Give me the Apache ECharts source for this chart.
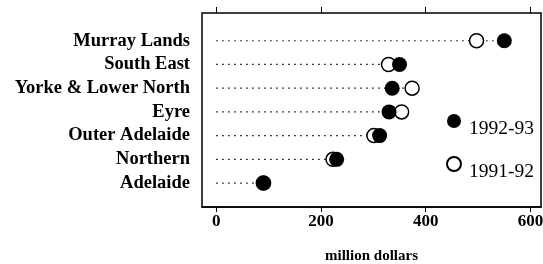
<!DOCTYPE html>
<html>
<head>
<meta charset="utf-8">
<script src="https://cdn.jsdelivr.net/npm/echarts@6/dist/echarts.min.js"></script>
<style>
body { margin: 0; background: #fff; }
#chart { width: 543px; height: 264px; }
</style>
</head>
<body>
<div id="chart"></div>
<script>
// regions, top to bottom
var regions = ['Murray Lands', 'South East', 'Yorke & Lower North', 'Eyre', 'Outer Adelaide', 'Northern', 'Adelaide'];
var v9293 = [550, 350, 336, 330, 312, 230, 91];
var v9192 = [497, 329, 374, 354, 301, 223, 90];
var xTicks = [0, 200, 400, 600];

var font = 'Liberation Serif';

var dotData = [], openData = [], lineData = [];
for (var i = 0; i < regions.length; i++) {
	dotData.push([v9293[i], i]);
	openData.push([v9192[i], i]);
	lineData.push([Math.max(v9293[i], v9192[i]), i]);
}

var myChart = echarts.init(document.getElementById('chart'));
var option = {
	animation: false,
	grid: {
		left: 202, right: 2, top: 13, bottom: 57, outerBoundsMode: 'none', containLabel: false,
		show: true, borderColor: '#000', borderWidth: 1.5
	},
	legend: {
		orient: 'vertical',
		left: 446, top: 114, padding: 0,
		itemWidth: 14, itemHeight: 14, itemGap: 17,
		data: ['1992-93', '1991-92'],
		formatter: function (name) { return '{a|' + name + '}'; },
		textStyle: {
			color: '#000',
			rich: { a: { fontFamily: font, fontSize: 19.5, color: '#000', padding: [16, 0, 0, 3] } }
		}
	},
	xAxis: [{
		type: 'value', min: -27, max: 620,
		name: 'million dollars', nameLocation: 'middle', nameGap: 42,
		nameTextStyle: { fontFamily: font, fontSize: 15, fontWeight: 'bold', color: '#000' },
		axisLine: { show: true, onZero: false, lineStyle: { color: '#000', width: 1.5 } },
		axisTick: { show: true, length: 5, customValues: xTicks, lineStyle: { color: '#000' } },
		axisLabel: { customValues: xTicks, fontFamily: font, fontSize: 17, fontWeight: 'bold', color: '#000', margin: 6 },
		splitLine: { show: false }
	}, {
		type: 'value', position: 'top', min: -27, max: 620,
		axisLine: { show: false, onZero: false },
		axisTick: { show: true, length: 6, customValues: xTicks, lineStyle: { color: '#000' } },
		axisLabel: { show: false },
		splitLine: { show: false }
	}],
	yAxis: {
		type: 'value', inverse: true, min: -1.17, max: 7.01,
		axisLine: { show: false },
		axisTick: { show: false },
		splitLine: { show: false },
		axisLabel: {
			customValues: [0, 1, 2, 3, 4, 5, 6],
			formatter: function (v) { return regions[v]; },
			fontFamily: font, fontSize: 18.5, fontWeight: 'bold', color: '#000', margin: 12
		}
	},
	series: [
		{
			type: 'custom',
			data: lineData,
			renderItem: function (params, api) {
				var a = api.coord([0, api.value(1)]);
				var b = api.coord([api.value(0), api.value(1)]);
				return {
					type: 'line',
					shape: { x1: a[0], y1: a[1], x2: b[0], y2: b[1] },
					style: { stroke: '#000', lineWidth: 1.2, lineDash: [1.5, 4.5] }
				};
			},
			z: 1
		},
		{
			name: '1991-92', type: 'scatter', data: openData,
			symbol: 'circle', symbolSize: 14,
			itemStyle: { color: '#fff', borderColor: '#000', borderWidth: 1.5, opacity: 1 },
			z: 2
		},
		{
			name: '1992-93', type: 'scatter', data: dotData,
			symbol: 'circle', symbolSize: 15,
			itemStyle: { color: '#000', opacity: 1 },
			z: 3
		}
	]
};
myChart.setOption(option);
</script>
</body>
</html>
